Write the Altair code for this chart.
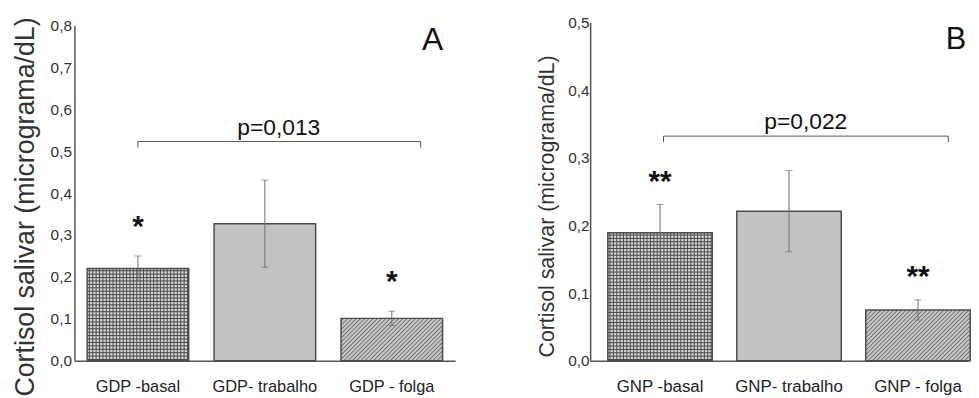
import math
import altair as alt
import pandas as pd

FONT = "Liberation Sans"
YTITLE = "Cortisol salivar (micrograma/dL)"

# ---------------- data ----------------
cats_a = ["GDP -basal", "GDP- trabalho", "GDP - folga"]
mean_a = [0.220, 0.327, 0.101]
err_a = [0.030, 0.104, 0.017]
stars_a = ["*", "", "*"]
pval_a = "p=0,013"
bracket_a = 0.523
ticks_a = [0.0, 0.1, 0.2, 0.3, 0.4, 0.5, 0.6, 0.7, 0.8]

cats_b = ["GNP -basal", "GNP- trabalho", "GNP - folga"]
mean_b = [0.189, 0.221, 0.075]
err_b = [0.042, 0.060, 0.015]
stars_b = ["**", "", "**"]
pval_b = "p=0,022"
bracket_b = 0.332
ticks_b = [0.0, 0.1, 0.2, 0.3, 0.4, 0.5]


# ---------------- pattern helpers (styling only) ----------------
def stripe_stops(n, bg, fg):
    s = []
    for k in range(n):
        s.append({"offset": round(k / n, 5), "color": bg})
        s.append({"offset": round((k + 0.35) / n, 5), "color": bg})
        s.append({"offset": round((k + 0.65) / n, 5), "color": fg})
        s.append({"offset": round(min(1, (k + 0.95) / n), 5), "color": bg})
    s.append({"offset": 1, "color": bg})
    return s


def grad_h(h_px, period, bg, fg):
    n = max(1, round(h_px / period))
    return {"gradient": "linear", "x1": 0, "y1": 0, "x2": 0, "y2": 1,
            "stops": stripe_stops(n, bg, fg)}


def grad_v(w_px, period, bg, fg):
    n = max(1, round(w_px / period))
    return {"gradient": "linear", "x1": 0, "y1": 0, "x2": 1, "y2": 0,
            "stops": stripe_stops(n, bg, fg)}


def grad_diag(w, h, period, bg, fg):
    d = 1 + (h / w) ** 2
    k = (w + h) / (w * d)
    n = max(1, round((w + h) / (period * math.sqrt(2))))
    return {"gradient": "linear", "x1": 0, "y1": 0, "x2": round(k, 5),
            "y2": round(k * h / w, 5), "stops": stripe_stops(n, bg, fg)}


def panel(cats, mean, err, stars, pval, bracket, ticks, letter, L):
    df = pd.DataFrame({"cat": cats, "mean": mean, "err": err, "star": stars})
    base = alt.Chart(df).transform_calculate(
        lo="datum.mean - datum.err", hi="datum.mean + datum.err")
    xo = L["xo"]

    xscale = alt.Scale(domain=cats, paddingInner=L["pi"], paddingOuter=L["po"])
    xaxis = alt.Axis(ticks=False, grid=False, domainColor="#555", domainWidth=1.5,
                     labelFontSize=L["xfs"], labelFont=FONT, labelColor="#222",
                     labelAngle=0, labelBaseline="alphabetic", labelPadding=31,
                     labelOffset=xo)
    yscale = alt.Scale(domain=[0, ticks[-1]], range=[L["h"], L["top"]], nice=False)
    yaxis = alt.Axis(values=ticks, labelExpr="replace(format(datum.value, '.1f'), '.', ',')",
                     ticks=False, grid=False, domainColor="#555", domainWidth=1.5,
                     labelFontSize=15.5, labelFont=FONT, labelColor="#333",
                     labelPadding=L["lpad"], titleFont=FONT, titleFontSize=L["tfs"],
                     titleFontWeight="normal", titleColor="#333",
                     titleX=L["tx"], titleY=L["ty"], titleBaseline="alphabetic",
                     titleAlign="center")

    def X(field="cat", bp=None):
        if bp is None:
            return alt.X(f"{field}:N", scale=xscale, axis=xaxis, title=None)
        return alt.X(f"{field}:N", scale=xscale, axis=xaxis, title=None, bandPosition=bp)

    def Y(field):
        return alt.Y(f"{field}:Q", scale=yscale, axis=yaxis, title=YTITLE)

    # pixel geometry for the fill patterns
    step = L["w"] / (3 - L["pi"] + 2 * L["po"])
    bw = step * (1 - L["pi"])
    pxu = (L["h"] - L["top"]) / ticks[-1]

    g_h = grad_h(mean[0] * pxu, 3.4, "#d6d6d6", "#474747")
    g_v = grad_v(bw, 3.4, "rgba(71,71,71,0)", "rgba(71,71,71,0.95)")
    g_d = grad_diag(bw, mean[2] * pxu, 3.0, "#c8c8c8", "#6a6a6a")

    b1 = base.transform_filter(alt.datum.cat == cats[0]).mark_bar(
        fill=g_h, strokeWidth=0, xOffset=xo).encode(x=X(), y=Y("mean"))
    b1v = base.transform_filter(alt.datum.cat == cats[0]).mark_bar(
        fill=g_v, strokeWidth=0, xOffset=xo).encode(x=X(), y=Y("mean"))
    b2 = base.transform_filter(alt.datum.cat == cats[1]).mark_bar(
        fill="#c2c2c2", strokeWidth=0, xOffset=xo).encode(x=X(), y=Y("mean"))
    b3 = base.transform_filter(alt.datum.cat == cats[2]).mark_bar(
        fill=g_d, strokeWidth=0, xOffset=xo).encode(x=X(), y=Y("mean"))
    outline = base.mark_bar(fillOpacity=0, stroke="#4d4d4d", strokeWidth=1.5,
                            xOffset=xo).encode(x=X(), y=Y("mean"))

    err_rule = base.mark_rule(color="#6e6e6e", strokeWidth=1, xOffset=xo).encode(
        x=X(), y=Y("lo"), y2="hi:Q")
    cap_hi = base.mark_tick(orient="horizontal", size=7, thickness=1, color="#6e6e6e",
                            xOffset=xo).encode(x=X(), y=Y("hi"))
    cap_lo = base.mark_tick(orient="horizontal", size=7, thickness=1, color="#6e6e6e",
                            xOffset=xo).encode(x=X(), y=Y("lo"))
    star_txt = base.transform_filter(alt.datum.star != "").mark_text(
        font=FONT, fontSize=30, fontWeight="bold", baseline="alphabetic",
        dy=L["sdy"], color="#111", xOffset=xo).encode(x=X(), y=Y("hi"), text="star:N")

    bdf = pd.DataFrame({"c1": [cats[0]], "c2": [cats[2]], "cm": [cats[1]],
                        "y": [bracket], "p": [pval]})
    bb = alt.Chart(bdf)
    br_line = bb.mark_rule(color="#555", strokeWidth=1, xOffset=xo, x2Offset=xo).encode(
        x=X("c1", L["bl"]), x2=alt.X2("c2:N", bandPosition=L["br"]), y=Y("y"))
    br_left = bb.mark_rule(color="#555", strokeWidth=1, y2Offset=6, xOffset=xo).encode(
        x=X("c1", L["bl"]), y=Y("y"), y2="y:Q")
    br_right = bb.mark_rule(color="#555", strokeWidth=1, y2Offset=6, xOffset=xo).encode(
        x=X("c2", L["br"]), y=Y("y"), y2="y:Q")
    p_txt = bb.mark_text(font=FONT, fontSize=23, baseline="alphabetic", dy=-7,
                         color="#111", xOffset=xo).encode(
        x=X("cm", L["pm"]), y=Y("y"), text="p:N")

    lab = alt.Chart(pd.DataFrame({"t": [letter]})).mark_text(
        font=FONT, fontSize=L["lfs"], baseline="alphabetic", align="center",
        color="#111").encode(x=alt.value(L["lx"]), y=alt.value(L["ly"]), text="t:N")

    return alt.layer(b1, b1v, b2, b3, outline, err_rule, cap_hi, cap_lo, star_txt,
                     br_line, br_left, br_right, p_txt, lab).properties(
        width=L["w"], height=L["h"])


LA = dict(w=384, h=341, top=3, pi=0.2, po=0.1, xo=0, xfs=16.5, lpad=3,
          tfs=27, tx=-41, ty=185.5, sdy=-20, bl=0.50, br=0.784, pm=0.637,
          lfs=32, lx=361, ly=28)
LB = dict(w=381, h=341, top=0, pi=0.19, po=0.06, xo=10, xfs=17, lpad=1,
          tfs=21.5, tx=-37, ty=185, sdy=-14, bl=0.533, br=0.79, pm=0.66,
          lfs=31, lx=369, ly=27)

pa = panel(cats_a, mean_a, err_a, stars_a, pval_a, bracket_a, ticks_a, "A", LA)
pb = panel(cats_b, mean_b, err_b, stars_b, pval_b, bracket_b, ticks_b, "B", LB)

chart = alt.hconcat(pa, pb, spacing=136, bounds="flush").properties(
    padding={"left": 3, "top": 6, "right": 0, "bottom": 0},
    background="white",
).configure_view(stroke=None)

chart.save("out.html", embed_options={"renderer": "svg", "actions": False})
